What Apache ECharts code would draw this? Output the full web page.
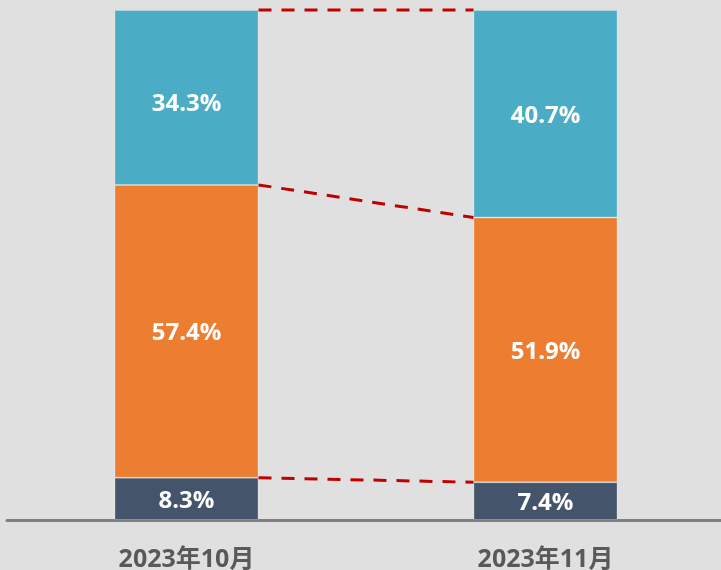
<!DOCTYPE html>
<html><head><meta charset="utf-8">
<script src="https://cdn.jsdelivr.net/npm/echarts@6/dist/echarts.min.js"></script>
<style>html,body{margin:0;padding:0;background:#e0e0e0;}#c{width:721px;height:570px;}</style>
</head><body><div id="c"></div>
<script>
const categories = ['2023年10月', '2023年11月'];
const bottomVals = [8.3, 7.4];
const middleVals = [57.4, 51.9];
const topVals = [34.3, 40.7];

const BAR_W = 144;
const chart = echarts.init(document.getElementById('c'), null, {renderer: 'canvas'});
const labelStyle = {show: true, position: 'inside', color: '#ffffff', fontSize: 24, fontWeight: 'bold',
  offset: [0, 2],
  fontFamily: '"Open Sans", "Noto Sans", sans-serif', formatter: p => p.value.toFixed(1) + '%'};

// cumulative boundaries for connectors
const bounds = [
  categories.map((c, i) => bottomVals[i]),
  categories.map((c, i) => bottomVals[i] + middleVals[i]),
  categories.map((c, i) => bottomVals[i] + middleVals[i] + topVals[i])
];

chart.setOption({
  backgroundColor: '#e0e0e0',
  animation: false,
  grid: {left: 7, right: -4, top: 10, bottom: 50, containLabel: false, outerBoundsMode: 'none'},
  xAxis: {
    type: 'category', data: categories,
    axisLine: {lineStyle: {color: '#808080', width: 3}},
    axisTick: {show: false},
    axisLabel: {color: '#595959', fontSize: 25, fontWeight: 'bold', margin: 27,
      fontFamily: '"Open Sans", "Noto Sans CJK SC", sans-serif'}
  },
  yAxis: {type: 'value', min: 0, max: 100, show: false, splitLine: {show: false}},
  series: [
    {type: 'bar', stack: 's', data: bottomVals, barWidth: BAR_W,
      itemStyle: {color: '#44546A', borderColor: 'rgba(255,255,255,0.25)', borderWidth: 1}, label: labelStyle},
    {type: 'bar', stack: 's', data: middleVals, barWidth: BAR_W,
      itemStyle: {color: '#ED7D31', borderColor: 'rgba(255,255,255,0.25)', borderWidth: 1}, label: labelStyle},
    {type: 'bar', stack: 's', barWidth: BAR_W,
      data: topVals.map((v, i) => i === 0 ? {value: v, label: {offset: [0, 7]}} : v),
      itemStyle: {color: '#4BACC6', borderColor: 'rgba(255,255,255,0.25)', borderWidth: 1}, label: labelStyle},
    {type: 'custom', data: bounds.map((b, k) => [k]), z: 5,
      renderItem: function (params, api) {
        const k = api.value(0);
        const b = bounds[k];
        const p0 = api.coord([0, b[0]]);
        const p1 = api.coord([1, b[1]]);
        return {type: 'line', shape: {x1: p0[0] + BAR_W / 2, y1: p0[1], x2: p1[0] - BAR_W / 2, y2: p1[1]},
          style: {stroke: '#C00000', lineWidth: 3, lineDash: [13, 10]}};
      }}
  ]
});
</script></body></html>
